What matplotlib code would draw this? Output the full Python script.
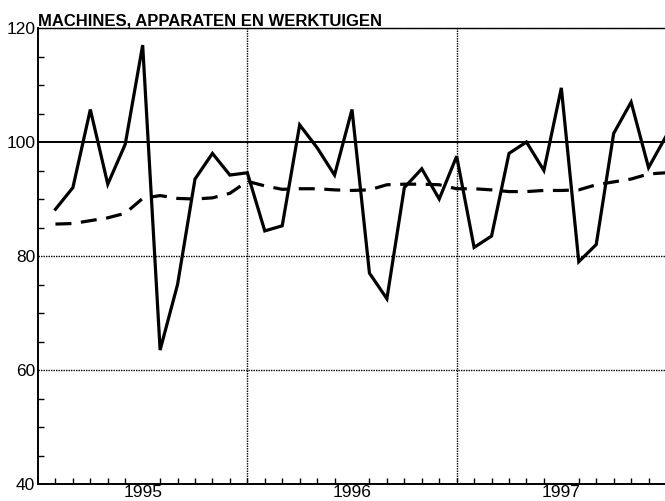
import matplotlib
matplotlib.use("Agg")
import matplotlib.pyplot as plt
import numpy as np

title = "MACHINES, APPARATEN EN WERKTUIGEN"
years = [1995, 1996, 1997]
year_labels = ["1995", "1996", "1997"]
actual = [88.2, 92.0, 105.7, 92.6, 99.6, 117.0, 63.5, 75.0, 93.5, 98.0, 94.2, 94.6,
          84.4, 85.3, 103.0, 99.0, 94.2, 105.7, 77.0, 72.5, 92.0, 95.3, 90.0, 97.5,
          81.5, 83.5, 98.0, 100.0, 95.0, 109.5, 79.0, 82.0, 101.5, 107.0, 95.5, 101.0]
trend = [85.6, 85.7, 86.2, 86.7, 87.5, 90.1, 90.6, 90.1, 90.0, 90.2, 91.0, 93.1,
         92.3, 91.7, 91.8, 91.8, 91.6, 91.5, 91.6, 92.5, 92.6, 92.6, 92.5, 91.8,
         91.8, 91.6, 91.3, 91.3, 91.5, 91.5, 91.6, 92.5, 93.0, 93.5, 94.4, 94.6]

x = 1995 + (np.arange(len(actual)) + 1) / 12.0

fig = plt.figure(figsize=(6.65, 5.01), dpi=100)
ax = fig.add_axes([38/665, 1-484/501, 628/665, (484-28)/501])
ax.set_xlim(1995, 1998)
ax.set_ylim(40, 120)

# grid
for yv in [60, 80]:
    ax.axhline(yv, color="black", lw=1.0, ls=(0, (1, 0.8)), zorder=1)
ax.axhline(100, color="black", lw=1.4, zorder=1)
for xv in [1996, 1997]:
    ax.axvline(xv, color="black", lw=1.0, ls=(0, (1, 0.8)), zorder=1)

ax.plot(x, actual, color="black", lw=2.3, solid_joinstyle="miter", zorder=3)
ax.plot(x, trend, color="black", lw=2.3, ls=(0, (5, 3)), zorder=3)

for s in ["top", "right"]:
    ax.spines[s].set_linestyle((0, (1, 0.8)))
    ax.spines[s].set_linewidth(1.0)
for s in ["left", "bottom"]:
    ax.spines[s].set_linewidth(1.4)

ax.set_yticks([40, 60, 80, 100, 120])
ax.set_yticklabels(["40", "60", "80", "100", "120"], fontsize=12.5, family="Liberation Sans")
ax.set_yticks(np.arange(40, 121, 5), minor=True)
ax.tick_params(axis="y", which="major", direction="in", length=0, pad=2)
ax.tick_params(axis="y", which="minor", direction="in", length=4, width=1.0)

ax.set_xticks([y + 0.5 for y in years])
ax.set_xticklabels(year_labels, fontsize=12.5, family="Liberation Sans")
ax.set_xticks(1995 + np.arange(1, 36) / 12.0, minor=True)
ax.tick_params(axis="x", which="major", length=0, pad=1)
ax.tick_params(axis="x", which="minor", direction="in", length=4, width=1.0)

fig.text(38/665, 1-25/501, title, fontsize=12, fontweight="bold",
         family="Liberation Sans", ha="left", va="baseline")

fig.savefig("out.png", dpi=100)
